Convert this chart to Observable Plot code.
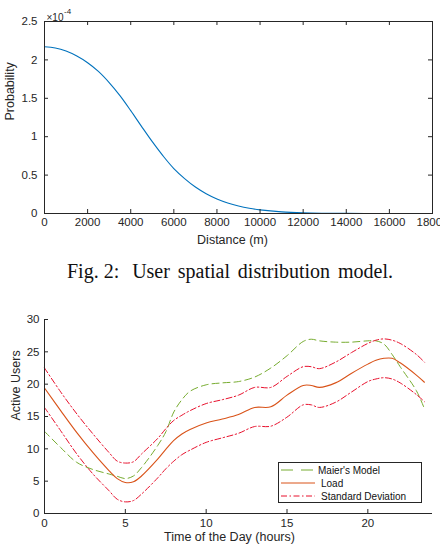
<!DOCTYPE html>
<html>
<head>
<meta charset="utf-8">
<script src="https://cdn.jsdelivr.net/npm/d3@7"></script>
<script src="https://cdn.jsdelivr.net/npm/@observablehq/plot@0.6"></script>
<style>
  html, body { margin: 0; padding: 0; background: #fff; }
  #root { position: relative; width: 440px; height: 554px; overflow: hidden; background: #fff; font-family: "Liberation Sans", Arial, sans-serif; }
  #root svg { position: absolute; left: 0; overflow: visible; }
  #caption { position: absolute; left: 67px; width: 326px; top: 261px; display: flex; justify-content: space-between; font-family: "Liberation Serif", "Times New Roman", serif; font-size: 20px; line-height: 20px; color: #111; white-space: pre; }
  #legend { position: absolute; left: 278px; top: 462px; width: 144px; height: 41px; box-sizing: border-box; border: 1px solid #262626; background: #fff; }
</style>
</head>
<body>
<div id="root">
  <div id="caption"><span>Fig. 2: </span><span>User</span><span>spatial</span><span>distribution</span><span>model.</span></div>
</div>
<script>
// ---------- Figure 2 data: user spatial distribution ----------
const distance = [0, 500, 1000, 1500, 2000, 2500, 3000, 3500, 4000, 4500, 5000, 5500, 6000, 6500, 7000, 7500, 8000, 8500, 9000, 9500, 10000, 11000, 12000, 13000, 14000, 15000, 16000, 17200];
// probability in units of 1e-4
const probabilityE4 = [2.171, 2.155, 2.115, 2.05, 1.963, 1.85, 1.705, 1.535, 1.34, 1.135, 0.935, 0.75, 0.585, 0.455, 0.345, 0.258, 0.19, 0.138, 0.098, 0.068, 0.047, 0.021, 0.0085, 0.0035, 0.0013, 0.0005, 0.0002, 0.0001];
const distTicks = [0, 2000, 4000, 6000, 8000, 10000, 12000, 14000, 16000, 18000];
const probTicks = [0, 0.5, 1, 1.5, 2, 2.5];

// ---------- Active users data ----------
const hours = [0, 1, 2, 3, 4, 4.5, 5, 5.5, 6, 7, 7.5, 8, 8.5, 9, 10, 11, 12, 13, 14, 15, 16, 16.5, 17, 18, 19, 20, 20.5, 21, 21.5, 22, 23, 23.5];
const load = [19.4, 15.9, 12.5, 9.4, 6.6, 5.4, 4.8, 4.9, 5.8, 8.4, 9.9, 11.3, 12.3, 13.0, 14.0, 14.6, 15.3, 16.4, 16.5, 18.3, 19.8, 19.8, 19.5, 20.2, 21.7, 23.1, 23.7, 24.0, 24.0, 23.3, 21.4, 20.3];
const stdUpper = [22.5, 18.8, 15.4, 12.3, 9.4, 8.1, 7.8, 8.0, 9.2, 11.6, 13.1, 14.4, 15.2, 15.9, 17.0, 17.6, 18.3, 19.5, 19.5, 21.2, 22.7, 22.7, 22.4, 23.4, 24.9, 26.3, 26.8, 27.0, 26.8, 26.3, 24.6, 23.4];
const stdLower = [16.4, 12.8, 9.2, 6.1, 3.5, 2.2, 1.8, 2.0, 3.0, 5.5, 6.9, 8.1, 9.1, 9.8, 11.0, 11.7, 12.4, 13.45, 13.5, 14.9, 16.8, 16.8, 16.4, 17.2, 18.8, 20.4, 20.8, 21.0, 20.8, 20.2, 18.4, 17.3];
const maier = [12.7, 10.2, 7.9, 6.8, 6.1, 5.75, 5.4, 5.8, 7.1, 10.5, 12.6, 15.7, 17.6, 18.9, 19.9, 20.2, 20.4, 21.1, 22.5, 24.4, 26.6, 26.95, 26.7, 26.5, 26.5, 26.7, 26.7, 26.2, 24.6, 22.7, 19.0, 16.2];
const hourTicks = [0, 5, 10, 15, 20];
const userTicks = [0, 5, 10, 15, 20, 25, 30];
const legendLabels = ["Maier's Model", "Load", "Standard Deviation"];

const AX = "#262626";
const TICK_FONT = 11.5;
const LABEL_FONT = 12.5;
const root = document.getElementById("root");
const plain = d3.format("d");

// ---------- Top chart ----------
{
  const W = 440, H = 250, mt = 21, mb = 37, ml = 44, mr = 8;
  const pw = W - ml - mr, ph = H - mt - mb;
  const data = distance.map((d, i) => ({d, p: probabilityE4[i]}));
  const svg = Plot.plot({
    width: W, height: H,
    marginTop: mt, marginBottom: mb, marginLeft: ml, marginRight: mr,
    style: {fontFamily: "Liberation Sans, Arial, sans-serif", color: AX, background: "transparent"},
    x: {domain: [0, 18000], ticks: distTicks},
    y: {domain: [0, 2.5], ticks: probTicks},
    marks: [
      Plot.line(data, {x: "d", y: "p", stroke: "#0072BD", strokeWidth: 1.1, curve: "catmull-rom"}),
      Plot.frame({stroke: AX, strokeWidth: 1}),
      Plot.ruleX(distTicks, {x: d => d, insetTop: ph - 4, stroke: AX}),
      Plot.ruleX(distTicks, {x: d => d, insetBottom: ph - 4, stroke: AX}),
      Plot.ruleY(probTicks, {y: d => d, insetRight: pw - 4, stroke: AX}),
      Plot.ruleY(probTicks, {y: d => d, insetLeft: pw - 4, stroke: AX}),
      Plot.axisX(distTicks, {tickSize: 0, tickPadding: 4, fontSize: TICK_FONT, label: null, fill: AX, tickFormat: plain}),
      Plot.axisY(probTicks, {tickSize: 0, tickPadding: 7, fontSize: TICK_FONT, label: null, fill: AX, tickFormat: d => d3.format("~g")(d)}),
      Plot.text(["Distance (m)"], {frameAnchor: "bottom", dy: 30, dx: -6, fontSize: LABEL_FONT, fill: AX}),
      Plot.text(["Probability"], {frameAnchor: "left", rotate: -90, dx: -35, dy: 3, fontSize: LABEL_FONT, fill: AX}),
      Plot.text(["\u00d710"], {frameAnchor: "top-left", textAnchor: "start", dx: 2, dy: -7.5, fontSize: 10, fill: AX}),
      Plot.text(["-4"], {frameAnchor: "top-left", textAnchor: "start", dx: 19.5, dy: -13, fontSize: 8, fill: AX})
    ]
  });
  svg.style.top = "0px";
  root.appendChild(svg);
}

// ---------- Bottom chart ----------
{
  const W = 440, H = 254, mt = 19, mb = 41, ml = 44, mr = 8;
  const pw = W - ml - mr, ph = H - mt - mb;
  const rows = hours.map((h, i) => ({h, load: load[i], up: stdUpper[i], lo: stdLower[i], maier: maier[i]}));
  const dashDot = "6,2.5,1.5,2.5";
  const svg = Plot.plot({
    width: W, height: H,
    marginTop: mt, marginBottom: mb, marginLeft: ml, marginRight: mr,
    style: {fontFamily: "Liberation Sans, Arial, sans-serif", color: AX, background: "transparent"},
    x: {domain: [0, 24], ticks: hourTicks},
    y: {domain: [0, 30], ticks: userTicks},
    marks: [
      Plot.line(rows, {x: "h", y: "maier", stroke: "#77AC30", strokeWidth: 1, strokeDasharray: "7,4", curve: "catmull-rom"}),
      Plot.line(rows, {x: "h", y: "load", stroke: "#D95319", strokeWidth: 1.1, curve: "catmull-rom"}),
      Plot.line(rows, {x: "h", y: "up", stroke: "#E8112D", strokeWidth: 1, strokeDasharray: dashDot, curve: "catmull-rom"}),
      Plot.line(rows, {x: "h", y: "lo", stroke: "#E8112D", strokeWidth: 1, strokeDasharray: dashDot, curve: "catmull-rom"}),
      Plot.ruleY([0], {stroke: AX}),
      Plot.ruleX([0], {stroke: AX}),
      Plot.ruleX(hourTicks, {x: d => d, insetTop: ph - 4, stroke: AX}),
      Plot.ruleY(userTicks, {y: d => d, insetRight: pw - 4, stroke: AX}),
      Plot.axisX(hourTicks, {tickSize: 0, tickPadding: 5, fontSize: TICK_FONT, label: null, fill: AX, tickFormat: plain}),
      Plot.axisY(userTicks, {tickSize: 0, tickPadding: 5, fontSize: TICK_FONT, label: null, fill: AX, tickFormat: plain}),
      Plot.text(["Time of the Day (hours)"], {frameAnchor: "bottom", dy: 27, dx: -9, fontSize: LABEL_FONT, fill: AX}),
      Plot.text(["Active Users"], {frameAnchor: "left", rotate: -90, dx: -29, dy: 4, fontSize: LABEL_FONT, fill: AX})
    ]
  });
  svg.style.top = "300px";
  root.appendChild(svg);

  // legend
  const leg = document.createElement("div");
  leg.id = "legend";
  const ns = "http://www.w3.org/2000/svg";
  const ls = document.createElementNS(ns, "svg");
  ls.setAttribute("width", 142); ls.setAttribute("height", 39);
  ls.style.position = "absolute"; ls.style.left = "0px"; ls.style.top = "0px";
  const styles = [
    {stroke: "#77AC30", dash: "12,8", tx: 39},
    {stroke: "#D95319", dash: null, tx: 42},
    {stroke: "#E8112D", dash: "6,2.5,1.5,2.5", tx: 42}
  ];
  legendLabels.forEach((lab, i) => {
    const y = 7 + i * 13;
    const ln = document.createElementNS(ns, "line");
    ln.setAttribute("x1", 2); ln.setAttribute("x2", 36);
    ln.setAttribute("y1", y); ln.setAttribute("y2", y);
    ln.setAttribute("stroke", styles[i].stroke);
    ln.setAttribute("stroke-width", 1);
    if (styles[i].dash) ln.setAttribute("stroke-dasharray", styles[i].dash);
    ls.appendChild(ln);
    const t = document.createElementNS(ns, "text");
    t.setAttribute("x", styles[i].tx); t.setAttribute("y", y);
    t.setAttribute("dy", "0.35em");
    t.setAttribute("font-size", 10);
    t.setAttribute("font-family", "Liberation Sans, Arial, sans-serif");
    t.setAttribute("fill", "#111");
    t.textContent = lab;
    ls.appendChild(t);
  });
  leg.appendChild(ls);
  root.appendChild(leg);
}
</script>
</body>
</html>
